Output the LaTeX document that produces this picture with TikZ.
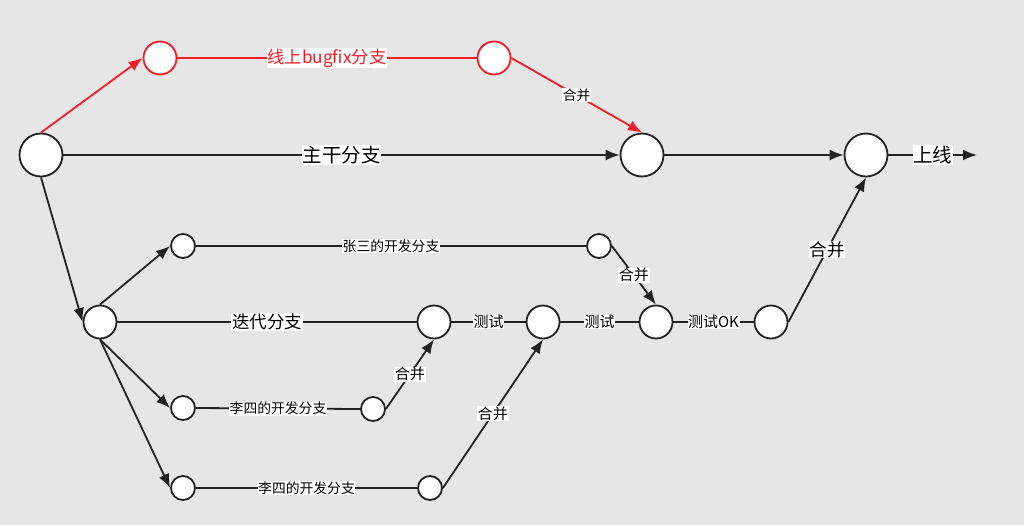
\documentclass[tikz,border=0pt]{standalone}
\usepackage{fontspec}
\usepackage{tikz}
\usetikzlibrary{arrows.meta,positioning}
\newfontfamily\cjk{Noto Sans CJK SC}
\definecolor{bugred}{RGB}{245,28,38}
\definecolor{lineblack}{RGB}{34,34,34}
\definecolor{canvas}{RGB}{230,230,230}
\tikzset{
  gitline/.style={line width=1.8pt, draw=lineblack},
  gitarrow/.style={gitline, -{Latex[length=14pt,width=11pt]}},
  bugline/.style={line width=1.8pt, draw=bugred},
  bugarrow/.style={bugline, -{Latex[length=14pt,width=11pt]}},
  commitbig/.style={circle, draw=lineblack, fill=white, line width=1.8pt,
    minimum size=43pt, inner sep=0pt},
  commit/.style={circle, draw=lineblack, fill=white, line width=1.8pt,
    minimum size=33pt, inner sep=0pt},
  commitsmall/.style={circle, draw=lineblack, fill=white, line width=1.8pt,
    minimum size=24pt, inner sep=0pt},
  bugcommit/.style={circle, draw=bugred, fill=white, line width=1.8pt,
    minimum size=33pt, inner sep=0pt},
  biglabel/.style={fill=white, inner sep=0.6pt, text=black,
    font=\cjk\fontsize{19.5}{21}\selectfont},
  midlabel/.style={fill=white, inner sep=0.6pt, text=black,
    font=\cjk\fontsize{17.5}{19}\selectfont},
  testlabel/.style={fill=white, inner sep=0.6pt, text=black,
    font=\cjk\fontsize{15}{16}\selectfont},
  devlabel/.style={fill=white, inner sep=0.6pt, text=black,
    font=\cjk\fontsize{13.8}{15}\selectfont},
  buglabel/.style={fill=white, inner sep=0.6pt, text=bugred,
    font=\cjk\fontsize{17.2}{18}\selectfont}
}

\begin{document}
\begin{tikzpicture}[x=1pt, y=-1pt]
  \fill[canvas] (0,0) rectangle (1024,525);
  \useasboundingbox (0,0) rectangle (1024,525);

  \node[commitbig] (start) at (41,155) {};
  \node[commitbig] (mainmerge) at (642,155) {};
  \node[commitbig] (release) at (866,155) {};
  \coordinate (online) at (977,155);

  \node[bugcommit] (bugstart) at (160,58) {};
  \node[bugcommit] (bugend) at (494,58) {};

  \node[commit] (iter) at (100,322) {};
  \node[commit] (iterA) at (434,322) {};
  \node[commit] (iterB) at (543,322) {};
  \node[commit] (iterC) at (656,322) {};
  \node[commit] (iterD) at (771,322) {};

  \node[commitsmall] (zhangA) at (183,246) {};
  \node[commitsmall] (zhangB) at (599,246) {};
  \node[commitsmall] (liA) at (183,408) {};
  \node[commitsmall] (liB) at (373,409) {};
  \node[commitsmall] (lisA) at (183,488) {};
  \node[commitsmall] (lisB) at (430,488) {};

  \draw[bugarrow] (start.north) -- (bugstart.west);
  \draw[bugline] (bugstart.east) -- node[buglabel] {线上bugfix分支} (bugend.west);
  \draw[bugarrow] (bugend.east) -- node[devlabel] {合并} (mainmerge.north);

  \draw[gitarrow] (start.east) -- node[biglabel] {主干分支} (mainmerge.west);
  \draw[gitarrow] (mainmerge.east) -- (release.west);
  \draw[gitarrow] (release.east) -- node[biglabel] {上线} (online);

  \draw[gitarrow] (start.south) -- (iter.west);
  \draw[gitarrow] (iter.north) -- (zhangA.west);
  \draw[gitarrow] (iter.south) -- (liA.west);
  \draw[gitarrow] (iter.south) -- (lisA.west);

  \draw[gitline] (zhangA.east) -- node[devlabel] {张三的开发分支} (zhangB.west);
  \draw[gitarrow] (zhangB.east) -- node[testlabel] {合并} (iterC.north);

  \draw[gitline] (iter.east) -- node[midlabel] {迭代分支} (iterA.west);
  \draw[gitline] (iterA.east) -- node[testlabel] {测试} (iterB.west);
  \draw[gitline] (iterB.east) -- node[testlabel] {测试} (iterC.west);
  \draw[gitline] (iterC.east) -- node[testlabel] {测试OK} (iterD.west);
  \draw[gitarrow] (iterD.east) -- node[midlabel] {合并} (release.south);

  \draw[gitline] (liA.east) -- node[devlabel] {李四的开发分支} (liB.west);
  \draw[gitarrow] (liB.east) -- node[testlabel] {合并} (iterA.south);

  \draw[gitline] (lisA.east) -- node[devlabel] {李四的开发分支} (lisB.west);
  \draw[gitarrow] (lisB.east) -- node[testlabel] {合并} (iterB.south);
\end{tikzpicture}
\end{document}
